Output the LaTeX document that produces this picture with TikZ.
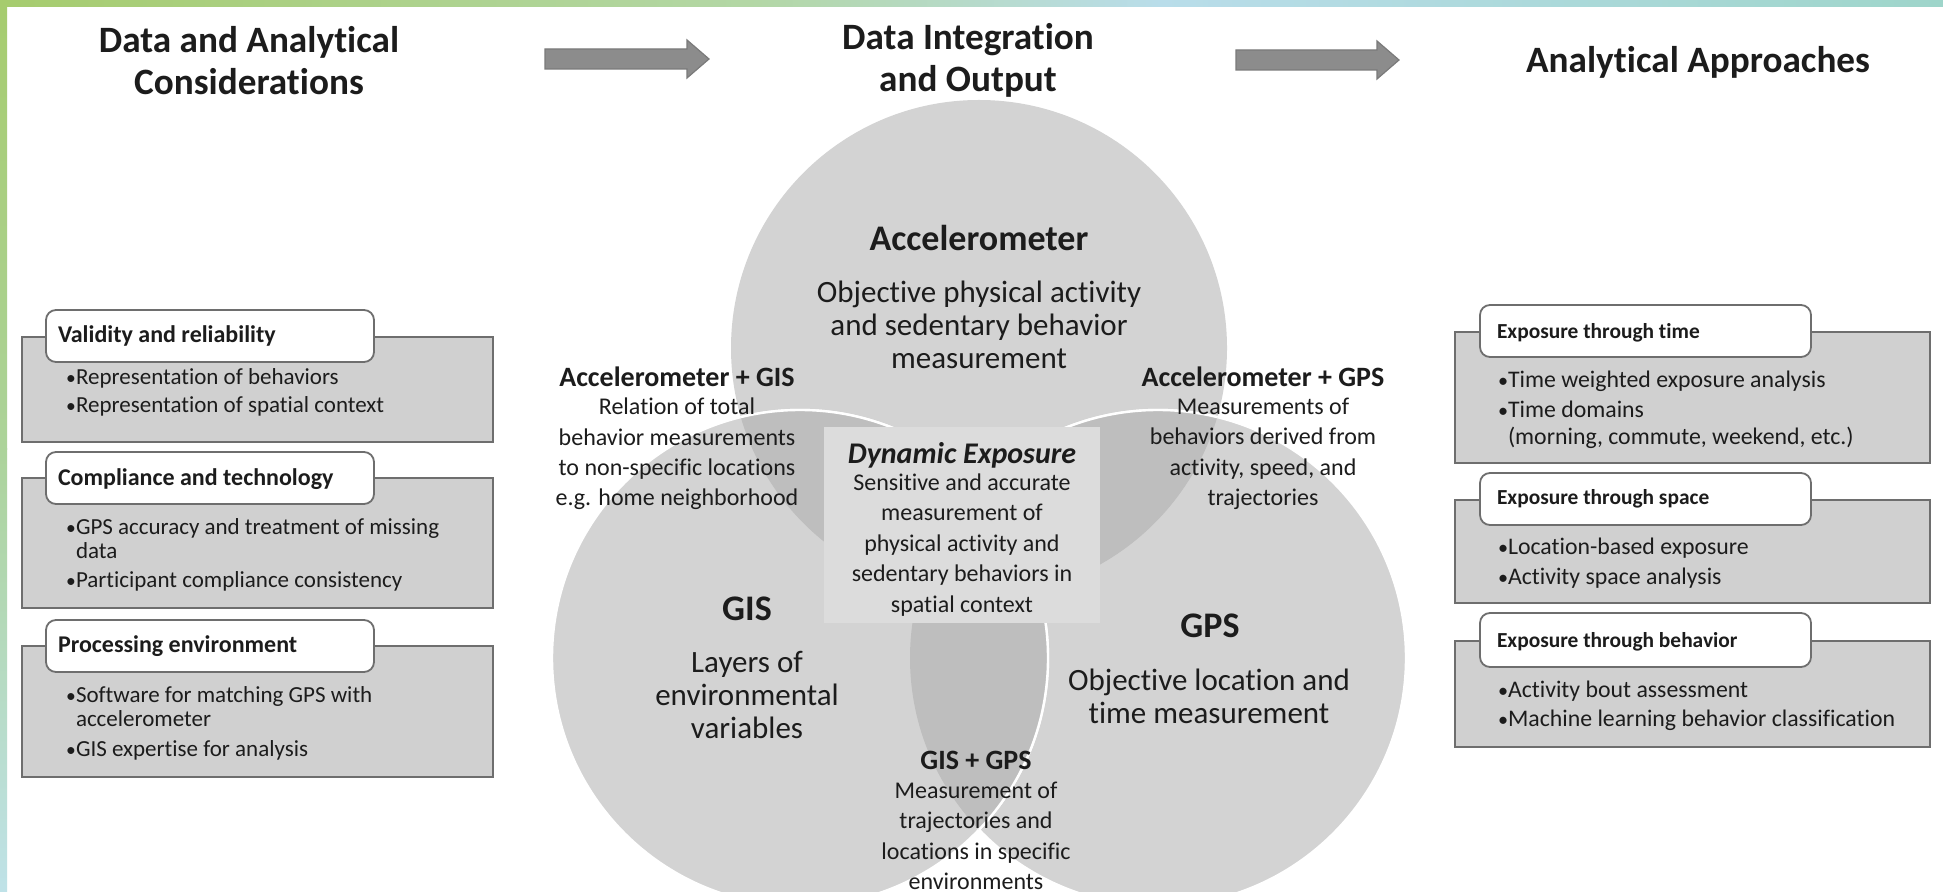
\documentclass[tikz,border=0pt]{standalone}
\usepackage{fontspec}
\setmainfont{Carlito}[Ligatures=NoCommon]
\definecolor{ink}{HTML}{1C1C1C}
\definecolor{venn}{HTML}{D3D3D3}
\definecolor{lens}{HTML}{BEBEBE}
\definecolor{core}{HTML}{DCDCDC}
\definecolor{panel}{HTML}{D0D0D0}
\definecolor{edge}{HTML}{6E6E6E}
\definecolor{arrowfill}{HTML}{8C8C8C}
\definecolor{arrowedge}{HTML}{7A7A7A}
\definecolor{fgreen}{HTML}{A6CC6E}
\definecolor{fmid}{HTML}{B3D7A6}
\definecolor{fblue}{HTML}{B9DDEA}
\definecolor{fteal}{HTML}{9ED5CA}
\definecolor{fleaf}{HTML}{ACD39A}
\definecolor{fbottom}{HTML}{BFE2E8}
\newcommand{\fsz}[2]{\fontsize{#1}{#2}\selectfont}
\newcommand{\bul}{\makebox[6.5pt][l]{\hspace{1.5pt}\scalebox{0.85}{•}}}
\begin{document}
\begin{tikzpicture}[x=0.5pt,y=-0.5pt,
  every node/.style={text=ink, inner sep=0pt, outer sep=0pt},
  coltitle/.style={font=\bfseries\fsz{18.6}{21}, align=center},
  venntitle/.style={font=\bfseries\fsz{18}{21}},
  venntext/.style={font=\fsz{15.5}{16.5}, align=center},
  pairtitle/.style={font=\bfseries\fsz{14}{16}},
  pairtext/.style={font=\fsz{12}{15.2}, align=center},
  coretitle/.style={font=\bfseries\itshape\fsz{15}{18}},
  lhead/.style={font=\bfseries\fsz{12}{14}, anchor=west},
  rhead/.style={font=\bfseries\fsz{10.7}{13}, anchor=west},
  item/.style={font=\fsz{11.5}{13}, anchor=base west},
  ritem/.style={font=\fsz{11.9}{13}, anchor=base west},
  panelbox/.style={draw=edge, fill=panel, line width=0.9pt},
  headbox/.style={draw=edge, fill=white, line width=0.9pt, rounded corners=5pt},
  blockarrow/.style={fill=arrowfill, draw=arrowedge, line width=0.6pt},
  rim/.style={draw=white, line width=1.2pt}
]
\useasboundingbox (0,0) rectangle (1943,892);
\fill[white] (0,0) rectangle (1943,892);

% coloured frame along the top and the left side
\shade[left color=fgreen, right color=fmid] (0,0) rectangle (760,7);
\shade[left color=fmid, right color=fblue] (759,0) rectangle (1160,7);
\shade[left color=fblue, right color=fteal] (1159,0) rectangle (1943,7);
\shade[top color=fgreen, bottom color=fleaf] (0,0) rectangle (7,450);
\shade[top color=fleaf, bottom color=fbottom] (0,449) rectangle (7,892);

% column titles and the block arrows between them
\node[coltitle] (t1) at (249,61) {Data and Analytical\\Considerations};
\node[coltitle] (t2) at (968,60) {Data Integration\\and Output};
\node[coltitle] (t3) at (1698,62) {Analytical Approaches};
\filldraw[blockarrow] (545,49) -- (687,49) -- (687,40) -- (709,59) -- (687,78) -- (687,69) -- (545,69) -- cycle;
\filldraw[blockarrow] (1236,50) -- (1377,50) -- (1377,41) -- (1399,60) -- (1377,79) -- (1377,70) -- (1236,70) -- cycle;

% Venn diagram of the three instruments
\def\R{248}
\coordinate (cA) at (979,348);
\coordinate (cL) at (800,658);
\coordinate (cR) at (1158,658);
\fill[venn] (cA) circle[radius=\R];
\filldraw[venn, rim] (cR) circle[radius=\R];
\filldraw[venn, rim] (cL) circle[radius=\R];
\begin{scope}
  \clip (cA) circle[radius=\R];
  \fill[lens] (cL) circle[radius=\R];
  \fill[lens] (cR) circle[radius=\R];
  \draw[rim] (cL) circle[radius=\R] (cR) circle[radius=\R];
\end{scope}
\begin{scope}
  \clip (cL) circle[radius=\R];
  \fill[lens] (cR) circle[radius=\R];
\end{scope}
\begin{scope}
  \clip (cR) circle[radius=\R];
  \draw[rim] (cL) circle[radius=\R];
\end{scope}
\fill[core] (824,427) rectangle (1100,623);

\node[venntitle] (acc) at (979,238) {Accelerometer};
\node[venntext] (accd) at (979,325) {Objective physical activity\\and sedentary behavior\\measurement};
\node[pairtitle] (ag) at (677,377) {Accelerometer + GIS};
\node[pairtext] (agd) at (677,454) {Relation of total\\behavior measurements\\to non-specific locations\\e.g. home neighborhood};
\node[pairtitle] (ap) at (1263,377) {Accelerometer + GPS};
\node[pairtext] (apd) at (1263,454) {Measurements of\\behaviors derived from\\activity, speed, and\\trajectories};
\node[coretitle] (dyn) at (962,455) {Dynamic Exposure};
\node[pairtext] (dynd) at (962,545) {Sensitive and accurate\\measurement of\\physical activity and\\sedentary behaviors in\\spatial context};
\node[venntitle] (gis) at (747,609) {GIS};
\node[venntext] (gisd) at (747,695) {Layers of\\environmental\\variables};
\node[venntitle] (gps) at (1210,626) {GPS};
\node[venntext] (gpsd) at (1209,696) {Objective location and\\time measurement};
\node[pairtitle] (gg) at (976,760) {GIS + GPS};
\node[pairtext] (ggd) at (976,836) {Measurement of\\trajectories and\\locations in specific\\environments};

% left column: data and analytical considerations
\draw[panelbox] (22,337) rectangle (493,442);
\draw[headbox] (46,310) rectangle (374,362);
\node[lhead] (l1h) at (58,336) {Validity and reliability};
\node[item] (l1a) at (63,385) {\bul Representation of behaviors};
\node[item] (l1b) at (63,413) {\bul Representation of spatial context};

\draw[panelbox] (22,478) rectangle (493,608);
\draw[headbox] (46,452) rectangle (374,504);
\node[lhead] (l2h) at (58,479) {Compliance and technology};
\node[item] (l2a) at (63,535) {\bul GPS accuracy and treatment of missing};
\node[item] (l2b) at (76,559) {data};
\node[item] (l2c) at (63,588) {\bul Participant compliance consistency};

\draw[panelbox] (22,646) rectangle (493,777);
\draw[headbox] (46,620) rectangle (374,672);
\node[lhead] (l3h) at (58,646) {Processing environment};
\node[item] (l3a) at (63,702) {\bul Software for matching GPS with};
\node[item] (l3b) at (76,726) {accelerometer};
\node[item] (l3c) at (63,756) {\bul GIS expertise for analysis};

% right column: analytical approaches
\draw[panelbox] (1455,332) rectangle (1930,463);
\draw[headbox] (1480,305) rectangle (1811,357);
\node[rhead] (r1h) at (1497,333) {Exposure through time};
\node[ritem] (r1a) at (1495,388) {\bul Time weighted exposure analysis};
\node[ritem] (r1b) at (1495,418) {\bul Time domains};
\node[ritem] (r1c) at (1508,445) {(morning, commute, weekend, etc.)};

\draw[panelbox] (1455,500) rectangle (1930,603);
\draw[headbox] (1480,473) rectangle (1811,525);
\node[rhead] (r2h) at (1497,499) {Exposure through space};
\node[ritem] (r2a) at (1495,555) {\bul Location-based exposure};
\node[ritem] (r2b) at (1495,584) {\bul Activity space analysis};

\draw[panelbox] (1455,641) rectangle (1930,747);
\draw[headbox] (1480,613) rectangle (1811,667);
\node[rhead] (r3h) at (1497,642) {Exposure through behavior};
\node[ritem] (r3a) at (1495,697) {\bul Activity bout assessment};
\node[ritem] (r3b) at (1495,726) {\bul Machine learning behavior classification};
\end{tikzpicture}
\end{document}
